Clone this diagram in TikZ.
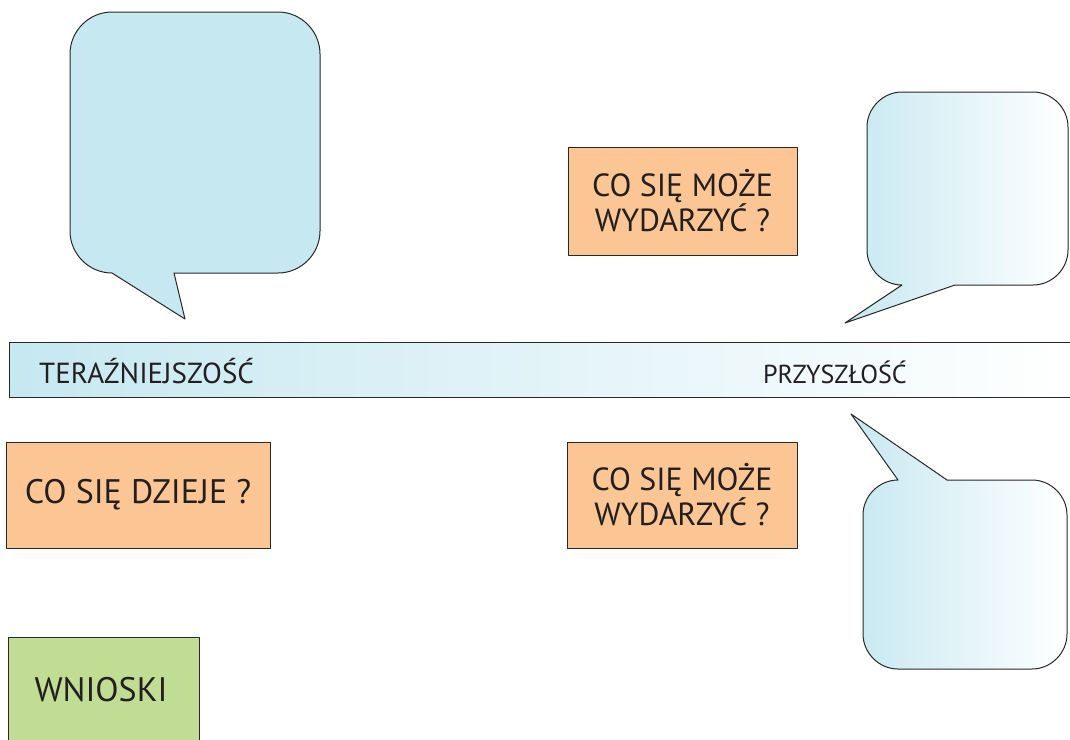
\documentclass[tikz,border=0pt]{standalone}
\usepackage{fontspec}
\setmainfont{PT Sans}
\definecolor{bubblue}{RGB}{198,232,241}
\definecolor{boxorange}{RGB}{251,198,147}
\definecolor{boxgreen}{RGB}{193,221,148}
\definecolor{ink}{RGB}{35,31,32}
\definecolor{edge}{RGB}{40,40,40}
\tikzset{
  outline/.style={draw=edge, line width=1pt, line join=round},
  flatbubble/.style={outline, fill=bubblue},
  fadebubble/.style={outline, left color=bubblue, right color=white},
  question/.style={outline, fill=boxorange, text=ink, align=center, inner sep=0pt,
    font=\fontsize{32}{34}\selectfont},
  summary/.style={outline, fill=boxgreen},
  barlabel/.style={text=ink, inner sep=0pt, anchor=base west},
}
\begin{document}
\begin{tikzpicture}[x=1pt, y=-1pt]
\useasboundingbox (0,0) rectangle (1070,739);

% time axis band
\fill[left color=bubblue, right color=white] (9,342) rectangle (1070,397);
\draw[outline] (1070,342) -- (9,342) -- (9,397) -- (1070,397);
\node[barlabel, font=\fontsize{29}{36}\selectfont] (now) at (39,383) {TERAŹNIEJSZOŚĆ};
\node[barlabel, font=\fontsize{26}{32}\selectfont] (future) at (763,383) {PRZYSZŁOŚĆ};

% speech bubble above the present
\draw[flatbubble] (112,273) -- (185,319) -- (174,273) -- (278,273)
  .. controls (301,273) and (320,254) .. (320,231) -- (320,54)
  .. controls (320,31) and (301,12) .. (278,12) -- (112,12)
  .. controls (89,12) and (70,31) .. (70,54) -- (70,231)
  .. controls (70,254) and (89,273) .. (112,273) -- cycle;

% speech bubble above the future
\draw[fadebubble] (902,285) -- (845,323) -- (955,285) -- (1033,285)
  .. controls (1052,285) and (1068,269) .. (1068,250) -- (1068,127)
  .. controls (1068,108) and (1052,92) .. (1033,92) -- (902,92)
  .. controls (883,92) and (867,108) .. (867,127) -- (867,250)
  .. controls (867,269) and (883,285) .. (902,285) -- cycle;

% speech bubble below the future
\draw[fadebubble] (898,480) -- (851,414) -- (947,480) -- (1032,480)
  .. controls (1051,480) and (1067,496) .. (1067,515) -- (1067,634)
  .. controls (1067,653) and (1051,669) .. (1032,669) -- (898,669)
  .. controls (879,669) and (863,653) .. (863,634) -- (863,515)
  .. controls (863,496) and (879,480) .. (898,480) -- cycle;

% question boxes
\node[question, minimum width=229pt, minimum height=108pt] (maybeup) at (682.5,201)
  {CO SIĘ MOŻE\\WYDARZYĆ ?};
\node[question, minimum width=230pt, minimum height=106pt] (maybedown) at (682,495)
  {CO SIĘ MOŻE\\WYDARZYĆ ?};
\node[question, minimum width=264pt, minimum height=106pt,
  font=\fontsize{34}{40}\selectfont] (happening) at (138,495) {CO SIĘ DZIEJE ?};

% conclusions box
\node[summary, minimum width=191pt, minimum height=120pt, anchor=north west, inner sep=0pt]
  (conclbox) at (8,637) {};
\node[text=ink, inner sep=0pt, anchor=base, font=\fontsize{34}{42}\selectfont]
  (concl) at (101,701) {WNIOSKI};
\end{tikzpicture}
\end{document}
